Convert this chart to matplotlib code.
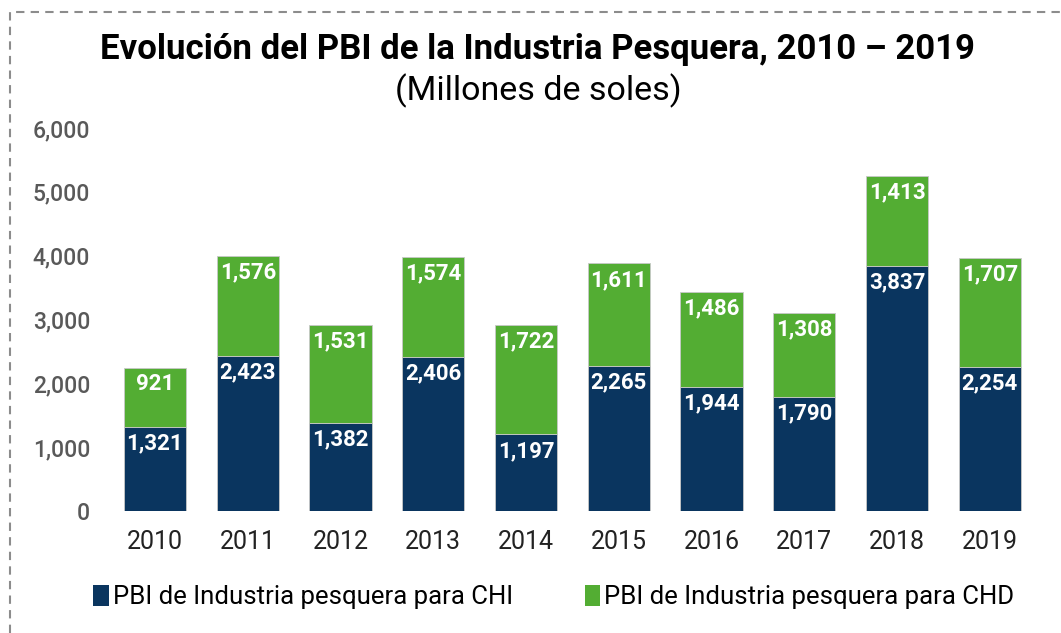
import matplotlib.pyplot as plt
from matplotlib.lines import Line2D
from matplotlib.patches import Patch

years = ['2010', '2011', '2012', '2013', '2014', '2015', '2016', '2017', '2018', '2019']
chi = [1321, 2423, 1382, 2406, 1197, 2265, 1944, 1790, 3837, 2254]
chd = [921, 1576, 1531, 1574, 1722, 1611, 1486, 1308, 1413, 1707]
yticks = [0, 1000, 2000, 3000, 4000, 5000, 6000]

navy = '#0a355f'
green = '#53ad33'

plt.rcParams['font.family'] = ['Roboto', 'DejaVu Sans']

fig = plt.figure(figsize=(10.61, 6.33), dpi=100)
ax = fig.add_axes([0.098, 0.193, 0.883, 0.605])

x = list(range(len(years)))
ax.bar(x, chi, width=0.67, color=navy, edgecolor='#c8c8c8', linewidth=0.6)
ax.bar(x, chd, width=0.67, bottom=chi, color=green, edgecolor='#c8c8c8', linewidth=0.6)

# labels just under the top of each segment
for i in x:
    ax.annotate(f'{chi[i]:,}', (i, chi[i]), xytext=(0, -4), textcoords='offset points',
                ha='center', va='top', color='white', fontsize=16, fontweight='bold')
    ax.annotate(f'{chd[i]:,}', (i, chi[i] + chd[i]), xytext=(0, -4), textcoords='offset points',
                ha='center', va='top', color='white', fontsize=16, fontweight='bold')

ax.set_xlim(-0.55, 9.55)
ax.set_ylim(0, 6000)
ax.set_xticks(x)
ax.set_xticklabels(years, fontsize=18, color='#222222')
ax.set_yticks(yticks)
ax.set_yticklabels([f'{v:,}' for v in yticks], fontsize=16.5, color='#595959', fontweight='medium')
ax.tick_params(length=0)
ax.tick_params(axis='x', pad=14)
ax.tick_params(axis='y', pad=10)
for s in ax.spines.values():
    s.set_visible(False)

fig.text(0.507, 0.922, 'Evolución del PBI de la Industria Pesquera, 2010 \u2013 2019',
         ha='center', va='center', fontsize=25, fontweight='bold')
fig.text(0.507, 0.856, '(Millones de soles)', ha='center', va='center', fontsize=24.5)

handles = [Patch(facecolor=navy), Patch(facecolor=green)]
fig.legend(handles, ['PBI de Industria pesquera para CHI', 'PBI de Industria pesquera para CHD'],
           loc='center', bbox_to_anchor=(0.522, 0.057), ncol=2, frameon=False,
           fontsize=18.5, handlelength=0.6, handleheight=0.9, handletextpad=0.15, columnspacing=2.8)

# dashed frame on left and top
fig.add_artist(Line2D([10 / 1061, 10 / 1061, 1.0], [0.0, 1 - 12 / 633, 1 - 12 / 633],
                      transform=fig.transFigure, color='#8c8c8c', linestyle=(0, (4, 3)), linewidth=1.5))

fig.savefig('out.png', dpi=100)
